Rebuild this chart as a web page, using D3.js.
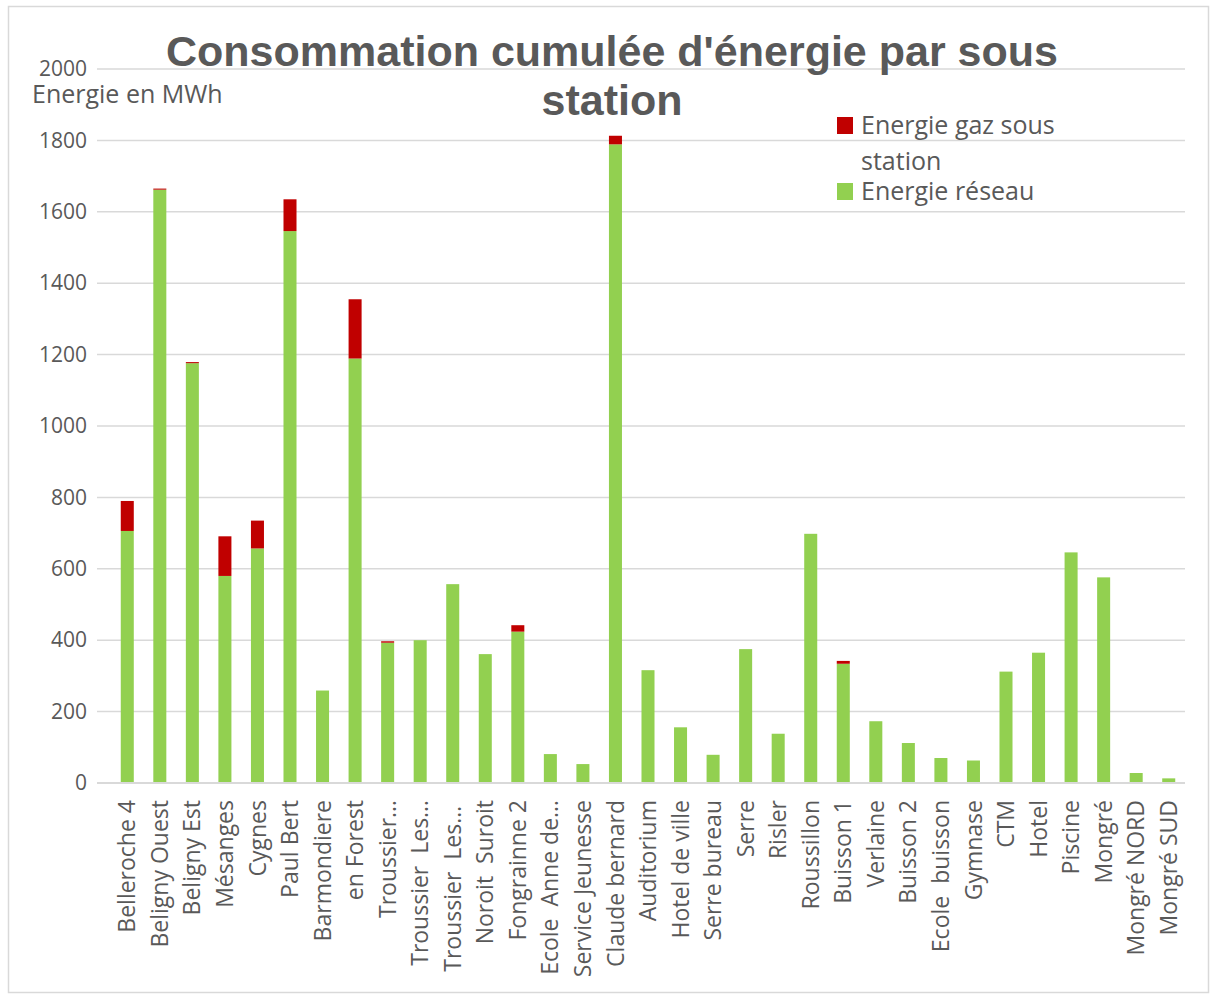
<!DOCTYPE html>
<html>
<head>
<meta charset="utf-8">
<script src="https://cdn.jsdelivr.net/npm/d3@7"></script>
<style>
  body { margin: 0; background: #fff; }
  svg text { font-family: "Open Sans", sans-serif; fill: #595959; white-space: pre; }
</style>
</head>
<body>
<svg id="chart" width="1210" height="996"></svg>
<script>
// Sub-station names (x axis, as shown in the chart)
const stations = [
  "Belleroche 4", "Beligny Ouest", "Beligny Est", "Mésanges", "Cygnes", "Paul Bert",
  "Barmondiere", "en Forest", "Troussier…", "Troussier  Les…", "Troussier  Les… ",
  "Noroit  Suroit", "Fongrainne 2", "Ecole  Anne de…", "Service Jeunesse",
  "Claude bernard", "Auditorium", "Hotel de ville", "Serre bureau", "Serre", "Risler",
  "Roussillon", "Buisson 1", "Verlaine", "Buisson 2", "Ecole  buisson", "Gymnase",
  "CTM", "Hotel", "Piscine", "Mongré", "Mongré NORD", "Mongré SUD"
];

// Energie réseau (MWh)
const reseau = [
  706, 1662, 1176, 580, 657, 1546,
  259, 1189, 393, 400, 557,
  361, 424, 81, 53,
  1789, 316, 156, 79, 375, 138,
  698, 334, 173, 112, 70, 63,
  312, 365, 646, 576, 28, 13
];

// Energie gaz sous station (MWh)
const gaz = [
  84, 3, 3, 111, 78, 89,
  0, 166, 4, 0, 0,
  0, 18, 0, 0,
  24, 0, 0, 0, 0, 0,
  0, 8, 0, 0, 0, 0,
  0, 0, 0, 0, 0, 0
];

const yTicks = [0, 200, 400, 600, 800, 1000, 1200, 1400, 1600, 1800, 2000];

const green = "#92d050";
const red = "#c00000";

const svg = d3.select("#chart");

// Outer frame
svg.append("rect")
    .attr("x", 8.5).attr("y", 6.5)
    .attr("width", 1200).attr("height", 986)
    .attr("fill", "none")
    .attr("stroke", "#d9d9d9")
    .attr("stroke-width", 1.5);

const margin = { left: 111, right: 1185, top: 69, bottom: 783 };

const x = d3.scaleBand()
    .domain(stations)
    .range([margin.left, margin.right])
    .paddingInner(0.6)
    .paddingOuter(0.3);

const y = d3.scaleLinear()
    .domain([0, 2000])
    .range([margin.bottom, margin.top]);

// Gridlines
svg.append("g")
  .selectAll("line")
  .data(yTicks)
  .enter().append("line")
    .attr("x1", margin.left - 14)
    .attr("x2", margin.right)
    .attr("y1", d => y(d))
    .attr("y2", d => y(d))
    .attr("stroke", "#d9d9d9")
    .attr("stroke-width", 1.5);

// Y axis labels
const yAxis = d3.axisLeft(y).tickValues(yTicks).tickFormat(d3.format("d")).tickSize(0).tickPadding(10);
const yG = svg.append("g")
    .attr("transform", `translate(${margin.left - 14},0)`)
    .call(yAxis);
yG.select(".domain").remove();
yG.selectAll("text")
    .style("font-family", "'Open Sans', sans-serif")
    .style("font-size", "21px")
    .attr("fill", "#595959");

// Stacked data
const rows = stations.map((s, i) => ({ name: s, reseau: reseau[i], gaz: gaz[i] }));
const stack = d3.stack().keys(["reseau", "gaz"]);
const series = stack(rows);
const colors = { reseau: green, gaz: red };

svg.append("g")
  .selectAll("g")
  .data(series)
  .enter().append("g")
    .attr("fill", d => colors[d.key])
  .selectAll("rect")
  .data(d => d.filter(v => v[1] > v[0]))
  .enter().append("rect")
    .attr("x", d => x(d.data.name))
    .attr("width", x.bandwidth())
    .attr("y", d => y(d[1]))
    .attr("height", d => y(d[0]) - y(d[1]));

// X axis
const xAxis = d3.axisBottom(x).tickSize(0).tickPadding(0);
const xG = svg.append("g")
    .attr("transform", `translate(0,${margin.bottom})`)
    .call(xAxis);
xG.select(".domain")
    .attr("stroke", "#d9d9d9")
    .attr("stroke-width", 2)
    .attr("d", `M${margin.left - 14},0H${margin.right}`);
xG.selectAll("text")
    .style("font-family", "'Open Sans', sans-serif")
    .style("font-size", "23px")
    .style("white-space", "pre")
    .attr("fill", "#595959")
    .attr("text-anchor", "end")
    .attr("dy", "0.35em")
    .attr("transform", "translate(0,17) rotate(-90)");

// Title
const title = svg.append("text")
    .attr("text-anchor", "middle")
    .style("font-family", "'Liberation Sans', Arial, sans-serif")
    .style("font-weight", "bold")
    .style("font-size", "43px");
title.append("tspan").attr("x", 612).attr("y", 66).text("Consommation cumulée d'énergie par sous");
title.append("tspan").attr("x", 612).attr("y", 115).text("station");

// Y axis unit
svg.append("text")
    .attr("x", 32).attr("y", 103)
    .style("font-size", "25px")
    .text("Energie en MWh");

// Legend
const legend = [
  { label: ["Energie gaz sous", "station"], color: red, y: 117 },
  { label: ["Energie réseau"], color: green, y: 183 }
];
const lg = svg.append("g");
legend.forEach(l => {
  lg.append("rect")
      .attr("x", 837).attr("y", l.y)
      .attr("width", 16).attr("height", 17)
      .attr("fill", l.color);
  const t = lg.append("text").style("font-size", "25px");
  l.label.forEach((s, i) => {
    t.append("tspan").attr("x", 861).attr("y", l.y + 17 + i * 36).text(s);
  });
});
</script>
</body>
</html>
